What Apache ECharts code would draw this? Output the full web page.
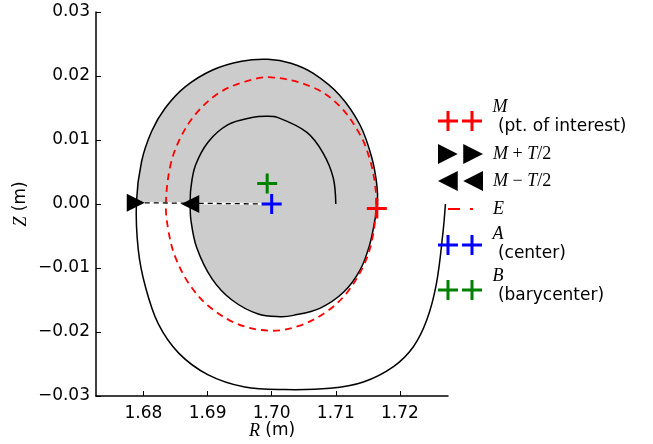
<!DOCTYPE html>
<html><head><meta charset="utf-8">
<script src="https://cdn.jsdelivr.net/npm/echarts@6/dist/echarts.min.js"></script>
<style>html,body{margin:0;padding:0;background:#fff}#c{width:653px;height:444px}</style>
</head><body><div id="c"></div>
<script>
// ---- data ----
const xTicks = [1.68, 1.69, 1.70, 1.71, 1.72];
const yTicks = [-0.03, -0.02, -0.01, 0.00, 0.01, 0.02, 0.03];

// spiral trajectory (R, Z), starting at outer right end, running clockwise inward
const spiralR = [1.7271, 1.7267, 1.7257, 1.7242, 1.7221, 1.7190, 1.7143, 1.7091, 1.7020, 1.6958,
                 1.6901, 1.6855, 1.6823, 1.6803, 1.6792, 1.6789, 1.6797, 1.6813, 1.6834, 1.6865,
                 1.6907, 1.6953, 1.6994, 1.7030, 1.7065, 1.7106, 1.7138, 1.7156, 1.7164, 1.7165,
                 1.7161, 1.7153, 1.7138, 1.7112, 1.7075, 1.7034, 1.7013, 1.6979, 1.6938, 1.6907,
                 1.6883, 1.6874, 1.6873, 1.6874, 1.6881, 1.6901, 1.6932, 1.6969, 1.6991, 1.7010,
                 1.7055, 1.7080, 1.7096, 1.7100];
const spiralZ = [0.0000, -0.0046, -0.0124, -0.0181, -0.0223, -0.0254, -0.0278, -0.0288, -0.0290, -0.0286,
                 -0.0267, -0.0233, -0.0187, -0.0129, -0.0072, 0.0002, 0.0066, 0.0114, 0.0150, 0.0183,
                 0.0209, 0.0223, 0.0226, 0.0220, 0.0204, 0.0170, 0.0123, 0.0073, 0.0030, 0.0000,
                 -0.0025, -0.0063, -0.0103, -0.0138, -0.0163, -0.0174, -0.0176, -0.0172, -0.0150, -0.0117,
                 -0.0068, -0.0025, 0.0000, 0.0025, 0.0060, 0.0097, 0.0124, 0.0135, 0.0137, 0.0135,
                 0.0112, 0.0080, 0.0041, 0.0000];
// one period (gray region) = spiral points from M+T/2 to M-T/2
const periodStart = 15, periodEnd = 42;

// ellipse E (closed curve)
const ellipseR = [1.6835, 1.6842, 1.6857, 1.6881, 1.6917, 1.6958, 1.7000, 1.7065, 1.7106, 1.7138,
                  1.7153, 1.7161, 1.7163, 1.7156, 1.7143, 1.7117, 1.7086, 1.7044, 1.7000, 1.6948,
                  1.6901, 1.6870, 1.6849, 1.6839];
const ellipseZ = [0.0000, 0.0060, 0.0102, 0.0140, 0.0173, 0.0191, 0.0198, 0.0182, 0.0153, 0.0108,
                  0.0070, 0.0032, -0.0005, -0.0059, -0.0097, -0.0139, -0.0168, -0.0190, -0.0198, -0.0188,
                  -0.0159, -0.0123, -0.0081, -0.0042];

const pointM = [1.7164, -0.0007];
const pointMplus = [1.6788, 0.0002];
const pointMminus = [1.6873, 0.0000];
const pointA = [1.7000, 0.0000];
const pointB = [1.6993, 0.0032];

// ---- chart ----
const spiral = spiralR.map((r, i) => [r, spiralZ[i]]);
const ellipse = ellipseR.map((r, i) => [r, ellipseZ[i]]);
const period = spiral.slice(periodStart, periodEnd + 1);
const SMOOTH = 0.35;

const PLUS = 'path://M8.5,0H11.5V8.5H20V11.5H11.5V20H8.5V11.5H0V8.5H8.5Z';
const PLUS2 = 'path://M8.5,0H11.5V8.5H20V11.5H11.5V20H8.5V11.5H0V8.5H8.5Z M32.5,0H35.5V8.5H44V11.5H35.5V20H32.5V11.5H24V8.5H32.5Z';
const TRI_R = 'path://M0,0L18,9L0,18Z';
const TRI_L = 'path://M18,0L0,9L18,18Z';
const TRI_R2 = 'path://M0,0L18,9L0,18Z M23,0L41,9L23,18Z';
const TRI_L2 = 'path://M18,0L0,9L18,18Z M41,0L23,9L41,18Z';
const DASH2 = 'path://M0,0 M45,20 M10,9H22V11H10Z M32,9H35V11H32Z';

const SANS = 'DejaVu Sans';
const SERIF = 'Liberation Serif';

const labels = {
  'M': '{m|M}\n{t| (pt. of interest)}\n{s8| }',
  'M+T/2': '{m|M}{r| + }{mm|T}{r|/2}',
  'M\u2212T/2': '{m|M}{r| \u2212 }{mm|T}{r|/2}',
  'E': '{m|E}',
  'A': '{m|A}\n{t| (center)}\n{s2| }',
  'B': '{m|B}\n{t| (barycenter)}\n{s8| }'
};
const legendItems = [
  {name: 'M', icon: PLUS2, top: 97},
  {name: 'M+T/2', icon: TRI_R2, top: 144},
  {name: 'M\u2212T/2', icon: TRI_L2, top: 171},
  {name: 'E', icon: DASH2, top: 199},
  {name: 'A', icon: PLUS2, top: 224},
  {name: 'B', icon: PLUS2, top: 266}
];

const legendText = {
  color: '#000', fontFamily: SANS, fontSize: 17, lineHeight: 20,
  rich: {
    m: {fontFamily: SERIF, fontStyle: 'italic', fontSize: 18, lineHeight: 20, padding: [0, 0, 0, 5], color: '#000'},
    mm: {fontFamily: SERIF, fontStyle: 'italic', fontSize: 18, lineHeight: 20, color: '#000'},
    r: {fontFamily: SERIF, fontSize: 18, lineHeight: 20, color: '#000'},
    t: {fontFamily: SANS, fontSize: 17, lineHeight: 20, padding: [0, 0, 0, 5], color: '#000'},
    s2: {fontFamily: SANS, fontSize: 2, lineHeight: 2},
    s8: {fontFamily: SANS, fontSize: 6, lineHeight: 8}
  }
};

function curveSeries(name, z, pts, closed, style, color) {
  return {
    type: 'custom', name: name, z: z, silent: true,
    itemStyle: {color: color},
    data: [pointA],
    renderItem: (params, api) => ({
      type: closed ? 'polygon' : 'polyline',
      shape: {points: pts.map(p => api.coord(p)), smooth: SMOOTH},
      style: style
    })
  };
}

const chart = echarts.init(document.getElementById('c'), null, {renderer: 'canvas'});
chart.setOption({
  animation: false,
  backgroundColor: '#ffffff',
  grid: {left: 96, right: 205, top: 12, bottom: 48, containLabel: false, outerBoundsMode: 'none'},
  xAxis: {
    type: 'value', min: 1.6726, max: 1.7275,
    splitLine: {show: false},
    axisLine: {show: true, onZero: false, lineStyle: {color: '#000', width: 1.5}},
    axisTick: {show: true, inside: true, length: 5, customValues: xTicks, lineStyle: {color: '#000', width: 1}},
    axisLabel: {customValues: xTicks, formatter: v => v.toFixed(2), fontFamily: SANS, fontSize: 17, color: '#000', margin: 9},
    name: '{i|R} (m)', nameLocation: 'middle', nameGap: 26, nameMoveOverlap: false,
    nameTextStyle: {fontFamily: SANS, fontSize: 17, color: '#000',
      rich: {i: {fontFamily: SERIF, fontStyle: 'italic', fontSize: 18, color: '#000'}}}
  },
  yAxis: {
    type: 'value', min: -0.03, max: 0.03,
    splitLine: {show: false},
    axisLine: {show: true, onZero: false, lineStyle: {color: '#000', width: 1.5}},
    axisTick: {show: true, inside: true, length: 5, customValues: yTicks, lineStyle: {color: '#000', width: 1}},
    axisLabel: {customValues: yTicks, formatter: v => (v < 0 ? '\u2212' : '') + Math.abs(v).toFixed(2),
      fontFamily: SANS, fontSize: 17, color: '#000', margin: 6, padding: [3, 0, 0, 0]},
    name: '{i|Z} (m)', nameLocation: 'middle', nameGap: 66, nameRotate: 90, nameMoveOverlap: false,
    nameTextStyle: {fontFamily: SANS, fontSize: 17, color: '#000',
      rich: {i: {fontFamily: SERIF, fontStyle: 'italic', fontSize: 18, color: '#000'}}}
  },
  legend: legendItems.map(it => ({
    orient: 'vertical', left: 438, top: it.top, itemWidth: 45, itemHeight: 20,
    selectedMode: false, padding: 0,
    data: [{name: it.name, icon: it.icon}],
    formatter: n => labels[n],
    textStyle: legendText
  })),
  series: [
    curveSeries('period', 1, period, false, {fill: '#cccccc', stroke: null}, '#cccccc'),
    curveSeries('trajectory', 2, spiral, false, {fill: null, stroke: '#000000', lineWidth: 1.5}, '#000000'),
    curveSeries('E', 3, ellipse, true, {fill: null, stroke: '#ff0000', lineWidth: 1.8, lineDash: [7, 5]}, '#ff0000'),
    {
      type: 'line', name: 'link_bg', z: 4, data: [pointMplus, pointA], symbol: 'none', silent: true,
      lineStyle: {color: '#ffffff', width: 2}
    },
    {
      type: 'line', name: 'link', z: 4, data: [pointMplus, pointA], symbol: 'none', silent: true,
      lineStyle: {color: '#000', width: 1.3, type: [5, 4]}
    },
    {type: 'scatter', name: 'M', z: 5, data: [pointM], symbol: PLUS, symbolSize: 20, itemStyle: {color: '#ff0000', opacity: 1}, silent: true},
    {type: 'scatter', name: 'M+T/2', z: 5, data: [pointMplus], symbol: TRI_R, symbolSize: 18, itemStyle: {color: '#000000', opacity: 1}, silent: true},
    {type: 'scatter', name: 'M\u2212T/2', z: 5, data: [pointMminus], symbol: TRI_L, symbolSize: 18, itemStyle: {color: '#000000', opacity: 1}, silent: true},
    {type: 'scatter', name: 'A', z: 5, data: [pointA], symbol: PLUS, symbolSize: 20, itemStyle: {color: '#0000ff', opacity: 1}, silent: true},
    {type: 'scatter', name: 'B', z: 5, data: [pointB], symbol: PLUS, symbolSize: 20, itemStyle: {color: '#008000', opacity: 1}, silent: true}
  ]
});
</script>
</body></html>
